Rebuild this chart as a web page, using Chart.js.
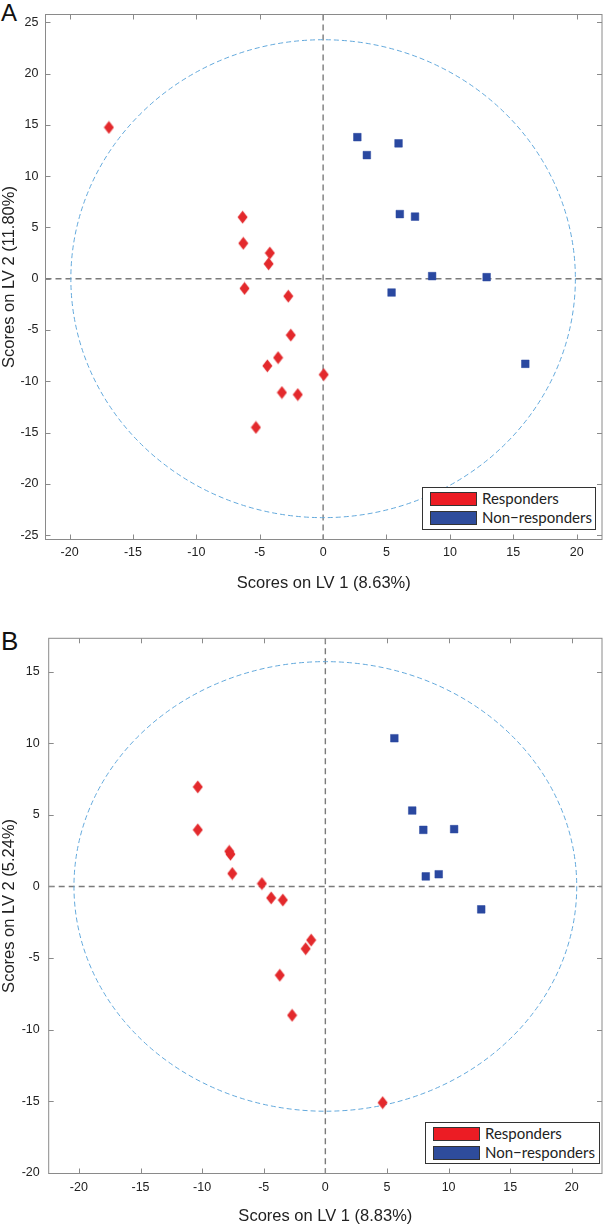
<!DOCTYPE html>
<html lang="en">
<head>
<meta charset="UTF-8">
<title>Scores on LV 1 / LV 2</title>
<script src="https://cdn.jsdelivr.net/npm/chart.js"></script>
<style>
  body { margin: 0; background: #fff; }
  #wrap { position: relative; width: 609px; height: 1227px; overflow: hidden; }
  #wrap canvas { position: absolute; left: 0; }
  .panel { position: absolute; font-family: 'Liberation Sans', Arial, sans-serif; line-height: 1; color: #111; }
  .legend { position: absolute; box-sizing: border-box; border: 1.5px solid #333; background: #fff;
            font-family: Lato, 'Open Sans', sans-serif; font-size: 15px; color: #222; }
  .legend .row { position: absolute; left: 7px; height: 14px; }
  .legend .sw { position: absolute; left: 0; top: 0; width: 47px; height: 14px; box-sizing: border-box; border: 1px solid #333; }
  .legend .txt { position: absolute; left: 52px; top: -2px; white-space: nowrap; line-height: 17px; }
</style>
</head>
<body>
<div id="wrap">
  <div class="panel" style="left:1px;top:1px;font-size:24px;">A</div>
  <canvas id="chartA" width="609" height="600" style="top:0"></canvas>
  <div class="legend" id="legA" style="left:422px;top:487px;width:174px;height:43px;"></div>

  <div class="panel" style="left:1px;top:628px;font-size:26px;">B</div>
  <canvas id="chartB" width="609" height="627" style="top:600px"></canvas>
  <div class="legend" id="legB" style="left:425px;top:1122px;width:175px;height:42px;"></div>
</div>

<script>
  // ---- data ----
  // panel A
  const respA_lv1 = [-16.9, -6.35, -6.3, -4.2, -4.3, -6.2, -2.75, -2.55, -3.55, -4.4, 0.05, -3.25, -2.0, -5.3];
  const respA_lv2 = [14.75, 6.0, 3.45, 2.5, 1.45, -0.95, -1.7, -5.5, -7.7, -8.5, -9.35, -11.1, -11.3, -14.5];
  const nonA_lv1 = [2.7, 3.45, 5.95, 6.05, 7.25, 8.6, 12.9, 5.4, 15.95];
  const nonA_lv2 = [13.8, 12.05, 13.2, 6.3, 6.05, 0.25, 0.15, -1.35, -8.3];
  const ticksA_x = [-20, -15, -10, -5, 0, 5, 10, 15, 20];
  const ticksA_y = [-25, -20, -15, -10, -5, 0, 5, 10, 15, 20, 25];
  const ellipseA = [19.9, 23.3];   // semi-axes (LV1, LV2)

  // panel B
  const respB_lv1 = [-10.35, -10.35, -7.8, -7.7, -7.55, -5.15, -4.4, -3.45, -1.15, -1.6, -3.7, -2.7, 4.65];
  const respB_lv2 = [6.95, 3.95, 2.45, 2.25, 0.9, 0.2, -0.8, -0.95, -3.75, -4.35, -6.2, -9.0, -15.1];
  const nonB_lv1 = [5.6, 7.05, 7.95, 10.45, 8.15, 9.2, 12.65];
  const nonB_lv2 = [10.35, 5.3, 3.95, 4.0, 0.7, 0.85, -1.6];
  const ticksB_x = [-20, -15, -10, -5, 0, 5, 10, 15, 20];
  const ticksB_y = [-20, -15, -10, -5, 0, 5, 10, 15];
  const ellipseB = [20.4, 15.7];

  const groupNames = ['Responders', 'Non\u2212responders'];
  const redMark = '#e3292c', blueMark = '#2a48a0';
  const redPatch = '#ec1c24', bluePatch = '#2e4c9c';

  // tall red diamond used as point style
  function makeDiamond() {
    const c = document.createElement('canvas');
    c.width = 11; c.height = 14;
    const g = c.getContext('2d');
    g.fillStyle = redMark;
    g.beginPath();
    g.moveTo(5.5, 0.5); g.lineTo(10.5, 7); g.lineTo(5.5, 13.5); g.lineTo(0.5, 7);
    g.closePath();
    g.fill();
    return c;
  }
  const diamond = makeDiamond();

  function toPoints(xs, ys) {
    return xs.map((x, i) => ({ x: x, y: ys[i] }));
  }

  // zero lines + ellipse under the points, box + inward ticks over them
  const framePlugin = {
    id: 'frame',
    beforeDatasetsDraw(chart, args, opts) {
      const { ctx, chartArea: a, scales: { x, y } } = chart;
      const x0 = x.getPixelForValue(0), y0 = y.getPixelForValue(0);
      ctx.save();
      ctx.beginPath();
      ctx.rect(a.left, a.top, a.right - a.left, a.bottom - a.top);
      ctx.clip();

      ctx.strokeStyle = '#7a7a7a';
      ctx.lineWidth = 1.4;
      ctx.setLineDash([6, 4]);
      ctx.beginPath();
      ctx.moveTo(x0, a.top); ctx.lineTo(x0, a.bottom);
      ctx.moveTo(a.left, y0); ctx.lineTo(a.right, y0);
      ctx.stroke();

      const rx = Math.abs(x.getPixelForValue(opts.ellipse[0]) - x0);
      const ry = Math.abs(y.getPixelForValue(opts.ellipse[1]) - y0);
      ctx.strokeStyle = '#63a9dc';
      ctx.lineWidth = 1;
      ctx.setLineDash([5, 3]);
      ctx.beginPath();
      ctx.ellipse(x0, y0, rx, ry, 0, 0, Math.PI * 2);
      ctx.stroke();
      ctx.restore();
    },
    afterDatasetsDraw(chart) {
      const { ctx, chartArea: a, scales: { x, y } } = chart;
      const tl = 5;
      ctx.save();
      ctx.strokeStyle = '#8a8a8a';
      ctx.lineWidth = 1;
      ctx.setLineDash([]);
      ctx.strokeRect(a.left, a.top, a.right - a.left, a.bottom - a.top);
      ctx.beginPath();
      x.ticks.forEach(t => {
        const px = Math.round(x.getPixelForValue(t.value)) + 0.5;
        ctx.moveTo(px, a.bottom); ctx.lineTo(px, a.bottom - tl);
        ctx.moveTo(px, a.top); ctx.lineTo(px, a.top + tl);
      });
      y.ticks.forEach(t => {
        const py = Math.round(y.getPixelForValue(t.value)) + 0.5;
        ctx.moveTo(a.left, py); ctx.lineTo(a.left + tl, py);
        ctx.moveTo(a.right, py); ctx.lineTo(a.right - tl, py);
      });
      ctx.stroke();
      ctx.restore();
    }
  };

  function makeChart(id, p) {
    const tickFont = { family: "'Liberation Sans', Arial, sans-serif", size: 12.5 };
    const titleFont = { family: "'Liberation Sans', Arial, sans-serif", size: 16.5 };
    return new Chart(document.getElementById(id), {
      type: 'scatter',
      data: {
        datasets: [
          {
            label: groupNames[0],
            data: toPoints(p.resp[0], p.resp[1]),
            pointStyle: diamond,
            pointRadius: 6,
            backgroundColor: redPatch
          },
          {
            label: groupNames[1],
            data: toPoints(p.non[0], p.non[1]),
            pointStyle: 'rect',
            pointRadius: 5.4,
            backgroundColor: blueMark,
            borderColor: blueMark,
            borderWidth: 0.5
          }
        ]
      },
      options: {
        responsive: false,
        animation: false,
        devicePixelRatio: 1,
        layout: { padding: p.padding },
        plugins: {
          legend: { display: false },
          tooltip: { enabled: false },
          frame: { ellipse: p.ellipse }
        },
        scales: {
          x: {
            type: 'linear',
            min: p.xr[0], max: p.xr[1],
            grid: { display: false, drawTicks: false },
            border: { display: false },
            afterBuildTicks: s => { s.ticks = p.ticksX.map(v => ({ value: v })); },
            afterFit: s => { s.height = p.xH; },
            ticks: { font: tickFont, color: '#222', padding: p.xPad, maxRotation: 0, autoSkip: false },
            title: { display: true, text: p.xTitle, font: titleFont, color: '#222',
                     padding: { top: 0, bottom: p.xTitlePad } }
          },
          y: {
            type: 'linear',
            min: p.yr[0], max: p.yr[1],
            grid: { display: false, drawTicks: false },
            border: { display: false },
            afterBuildTicks: s => { s.ticks = p.ticksY.map(v => ({ value: v })); },
            afterFit: s => { s.width = p.yW; },
            ticks: { font: tickFont, color: '#222', padding: p.yPad, autoSkip: false },
            title: { display: true, text: p.yTitle, font: titleFont, color: '#222',
                     padding: { top: 0, bottom: 0 } }
          }
        }
      },
      plugins: [framePlugin]
    });
  }

  const chartA = makeChart('chartA', {
    resp: [respA_lv1, respA_lv2], non: [nonA_lv1, nonA_lv2],
    ticksX: ticksA_x, ticksY: ticksA_y, ellipseA: null, ellipse: ellipseA,
    xr: [-21.9, 22.0], yr: [-25.43, 25.76],
    padding: { top: 1.5, right: 2, left: 0, bottom: 0 },
    yW: 45.5, xH: 60.5, xPad: 6, yPad: 7, xTitlePad: 7,
    xTitle: 'Scores on LV 1 (8.63%)', yTitle: 'Scores on LV 2 (11.80%)'
  });

  const chartB = makeChart('chartB', {
    resp: [respB_lv1, respB_lv2], non: [nonB_lv1, nonB_lv2],
    ticksX: ticksB_x, ticksY: ticksB_y, ellipse: ellipseB,
    xr: [-22.45, 22.45], yr: [-20.05, 17.33],
    padding: { top: 38.3, right: 1, left: 0, bottom: 0 },
    yW: 48.7, xH: 53.5, xPad: 7, yPad: 9, xTitlePad: 1,
    xTitle: 'Scores on LV 1 (8.83%)', yTitle: 'Scores on LV 2 (5.24%)'
  });

  // legend boxes built from the chart datasets
  function buildLegend(chart, elId) {
    const el = document.getElementById(elId);
    const patches = [redPatch, bluePatch];
    chart.data.datasets.forEach((ds, i) => {
      const row = document.createElement('div');
      row.className = 'row';
      row.style.top = (4 + i * 18.5) + 'px';
      const sw = document.createElement('div');
      sw.className = 'sw';
      sw.style.background = patches[i];
      const txt = document.createElement('div');
      txt.className = 'txt';
      txt.textContent = ds.label;
      row.appendChild(sw);
      row.appendChild(txt);
      el.appendChild(row);
    });
  }
  buildLegend(chartA, 'legA');
  buildLegend(chartB, 'legB');
</script>
</body>
</html>
